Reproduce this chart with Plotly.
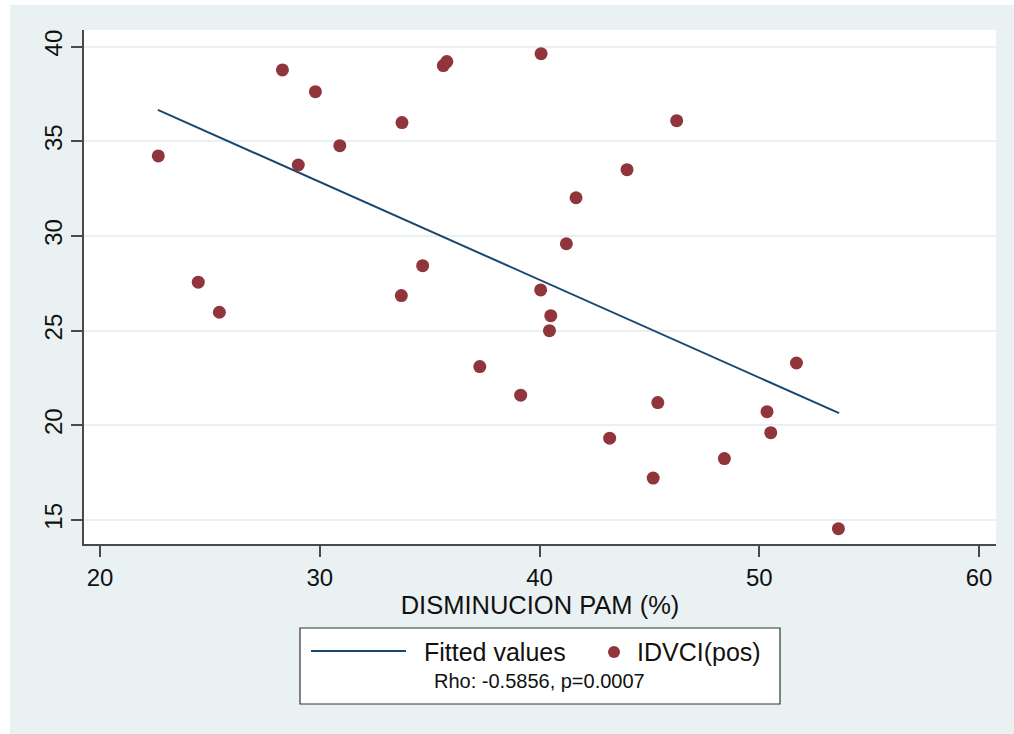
import plotly.graph_objects as go

# ---- data ----
pam_decrease = [22.65, 24.47, 25.43, 28.30, 29.02, 29.80, 30.91, 33.74, 33.71, 34.68,
                35.62, 35.78, 37.28, 39.14, 40.07, 40.05, 40.51, 40.45, 41.22, 41.66,
                43.19, 43.98, 45.17, 45.38, 46.24, 48.41, 50.35, 50.52, 51.69, 53.60]
idvci_pos = [34.23, 27.56, 25.97, 38.77, 33.75, 37.62, 34.77, 35.99, 26.85, 28.43,
             39.00, 39.21, 23.10, 21.59, 39.63, 27.15, 25.79, 25.00, 29.59, 32.02,
             19.32, 33.50, 17.21, 21.20, 36.09, 18.24, 20.72, 19.61, 23.29, 14.54]
fit_x = [22.63, 53.63]
fit_y = [36.66, 20.64]
x_ticks = [20, 30, 40, 50, 60]
y_ticks = [15, 20, 25, 30, 35, 40]

W, H = 1014, 734
ML, MR, MT, MB = 84, 18, 30, 190
PW, PH = W - ML - MR, H - MT - MB

def px(x):
    return (x - ML) / PW

def py(y):
    return (H - MB - y) / PH

NAVY = "#1A476F"
MAROON = "#90353B"
BG = "#EAF1F3"
AXC = "#4A4A4A"
FONT = "Liberation Sans, Arial, Helvetica, sans-serif"

fig = go.Figure()
fig.add_trace(go.Scatter(x=fit_x, y=fit_y, mode="lines", name="Fitted values",
                         line=dict(color=NAVY, width=2), showlegend=False))
fig.add_trace(go.Scatter(x=pam_decrease, y=idvci_pos, mode="markers", name="IDVCI(pos)",
                         marker=dict(color=MAROON, size=13, line=dict(width=0)),
                         showlegend=False))

shapes = [
    # white outer margins (left and top strips)
    dict(type="rect", xref="paper", yref="paper", x0=px(-5), x1=px(10), y0=py(740), y1=py(-5),
         fillcolor="white", line=dict(width=0), layer="above"),
    dict(type="rect", xref="paper", yref="paper", x0=px(-5), x1=px(1020), y0=py(5), y1=py(-5),
         fillcolor="white", line=dict(width=0), layer="above"),
    # legend box
    dict(type="rect", xref="paper", yref="paper", x0=px(300), x1=px(780), y0=py(704), y1=py(628),
         fillcolor="white", line=dict(color="#333333", width=1.2), layer="above"),
    # legend line sample
    dict(type="line", xref="paper", yref="paper", x0=px(311), x1=px(406), y0=py(651), y1=py(651),
         line=dict(color=NAVY, width=2), layer="above"),
    # legend marker sample
    dict(type="circle", xref="paper", yref="paper", x0=px(608), x1=px(620), y0=py(658), y1=py(646),
         fillcolor=MAROON, line=dict(width=0), layer="above"),
]

annotations = [
    dict(text="Fitted values", xref="paper", yref="paper", x=px(422), y=py(652),
         xanchor="left", yanchor="middle", showarrow=False,
         font=dict(family=FONT, size=25, color="#111111")),
    dict(text="IDVCI(pos)", xref="paper", yref="paper", x=px(635), y=py(652),
         xanchor="left", yanchor="middle", showarrow=False,
         font=dict(family=FONT, size=25, color="#111111")),
    dict(text="Rho: -0.5856, p=0.0007", xref="paper", yref="paper", x=px(539), y=py(681),
         xanchor="center", yanchor="middle", showarrow=False,
         font=dict(family=FONT, size=20, color="#111111")),
]

fig.update_layout(
    width=W, height=H,
    margin=dict(l=ML, r=MR, t=MT, b=MB, pad=0),
    paper_bgcolor=BG, plot_bgcolor="white",
    font=dict(family=FONT, size=24, color="#111111"),
    shapes=shapes, annotations=annotations,
    showlegend=False,
)
fig.update_xaxes(
    range=[19.27, 60.77], tickvals=x_ticks, ticktext=[str(t) for t in x_ticks],
    showgrid=False, zeroline=False,
    showline=True, linecolor=AXC, linewidth=1.5,
    ticks="outside", ticklen=11, tickwidth=1.5, tickcolor=AXC,
    tickfont=dict(size=24),
    title=dict(text="DISMINUCION PAM (%)", font=dict(size=25.5), standoff=6),
)
fig.update_yaxes(
    range=[13.73, 40.88], tickvals=y_ticks, ticktext=[str(t) for t in y_ticks],
    showgrid=True, gridcolor="#E8F0F2", gridwidth=2, zeroline=False,
    showline=True, linecolor=AXC, linewidth=1.5,
    ticks="outside", ticklen=11, tickwidth=1.5, tickcolor=AXC,
    tickangle=-90, tickfont=dict(size=24),
)

fig.write_html("out.html")
